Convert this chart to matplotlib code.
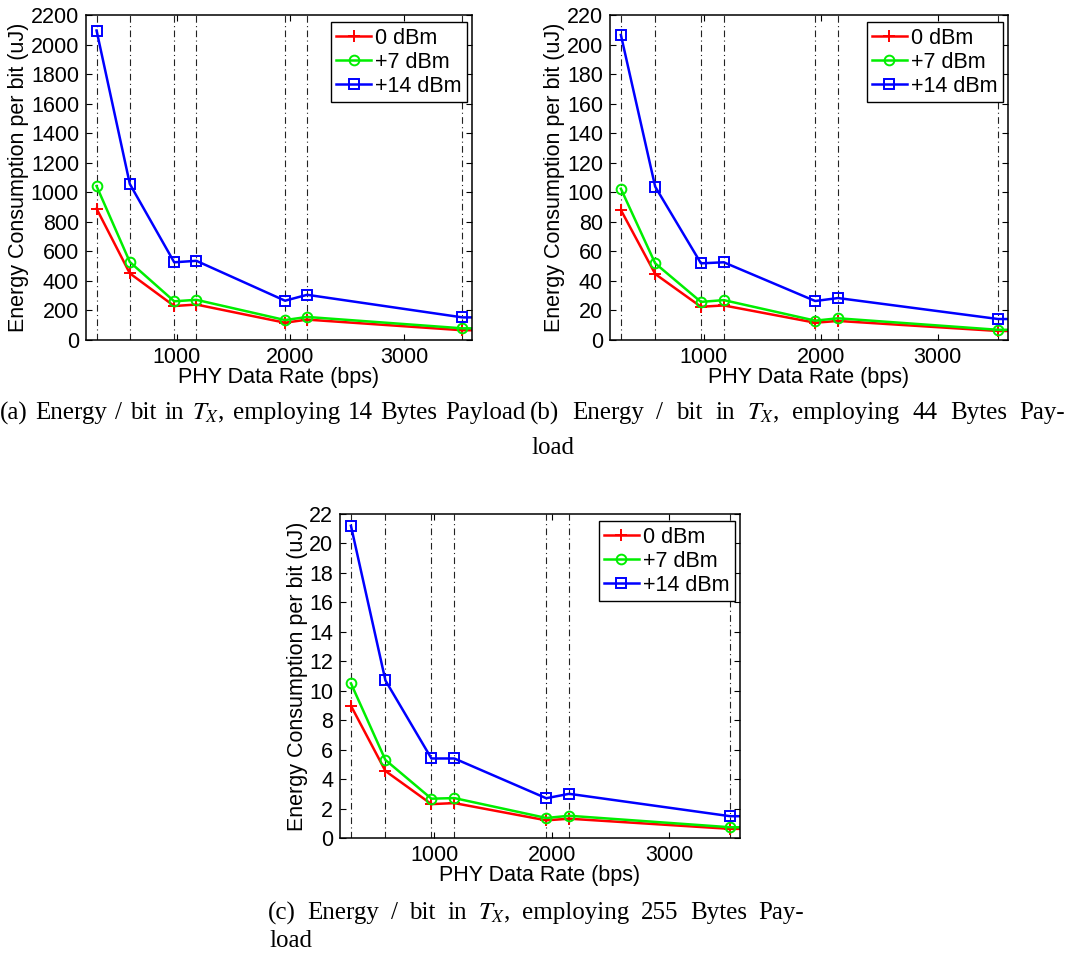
import matplotlib
matplotlib.use("Agg")
import matplotlib.pyplot as plt

plt.rcParams['font.family'] = ['Liberation Sans', 'DejaVu Sans']
plt.rcParams['mathtext.fontset'] = 'stix'

# LoRa PHY data rates (bps); the last one lies just past the x limit
rates = [293, 586, 977, 1172, 1953, 2148, 3516, 3906]

# energy per bit (uJ), 14 bytes payload
e14_0dbm = [889, 451, 230, 240, 117, 138, 66, 66]
e14_7dbm = [1042, 528, 262, 272, 135, 156, 79, 79]
e14_14dbm = [2095, 1056, 526, 536, 266, 306, 153, 153]

# 44 bytes payload
e44_0dbm = [88, 44.7, 22.5, 23.4, 11.7, 12.9, 6.1, 6.1]
e44_7dbm = [102.4, 51.9, 25.8, 27.0, 13.1, 14.7, 6.9, 6.9]
e44_14dbm = [206.5, 103.8, 51.9, 52.6, 26.4, 28.4, 14.2, 14.2]

# 255 bytes payload
e255_0dbm = [8.98, 4.55, 2.3, 2.37, 1.2, 1.31, 0.62, 0.62]
e255_7dbm = [10.5, 5.3, 2.67, 2.71, 1.36, 1.51, 0.73, 0.73]
e255_14dbm = [21.2, 10.7, 5.4, 5.4, 2.7, 3.0, 1.48, 1.48]

series_labels = ['0 dBm', '+7 dBm', '+14 dBm']
x_ticks = [1000, 2000, 3000]

cap_a = r'(a) Energy / bit in $T_X$, employing 14 Bytes Payload'
cap_b = r'(b) Energy / bit in $T_X$, employing 44 Bytes Pay-'
cap_c = r'(c) Energy / bit in $T_X$, employing 255 Bytes Pay-'

panels = [
    # (axes rect in px: left, top, right, bottom), data, ymax, ystep
    ((86, 15, 472, 340), (e14_0dbm, e14_7dbm, e14_14dbm), 2200, 200),
    ((610, 15, 1008, 340), (e44_0dbm, e44_7dbm, e44_14dbm), 220, 20),
    ((340, 514, 740, 838), (e255_0dbm, e255_7dbm, e255_14dbm), 22, 2),
]

W, H = 1071, 960
fig = plt.figure(figsize=(W / 100, H / 100), dpi=100)
FS = 15.5

styles = [
    dict(color='#ff0000', marker='+', markersize=8, markeredgewidth=1.4),
    dict(color='#00ee00', marker='o', markersize=7, markerfacecolor='none', markeredgewidth=1.4),
    dict(color='#0000ff', marker='s', markersize=6.5, markerfacecolor='none', markeredgewidth=1.4),
]

for (l, t, r, b), data, ymax, ystep in panels:
    ax = fig.add_axes([l / W, 1 - b / H, (r - l) / W, (b - t) / H])
    for xv in rates:
        ax.axvline(xv, color='#222222', lw=0.8, dashes=(6, 3, 1, 3))
    for vals, lab, st in zip(data, series_labels, styles):
        ax.plot(rates, vals, lw=1.8, label=lab, **st)
    ax.set_xlim(200, 3600)
    ax.set_ylim(0, ymax)
    ax.set_xticks(x_ticks)
    ax.set_yticks([ystep * k for k in range(int(round(ymax / ystep)) + 1)])
    ax.tick_params(direction='in', top=True, right=True, length=4, width=0.8,
                   labelsize=FS, pad=5)
    for sp in ax.spines.values():
        sp.set_linewidth(1.1)
    ax.set_xlabel('PHY Data Rate (bps)', fontsize=FS, labelpad=-1)
    ax.set_ylabel('Energy Consumption per bit (uJ)', fontsize=FS, labelpad=1)
    leg = ax.legend(loc='upper right', bbox_to_anchor=(0.987, 0.978), borderaxespad=0,
                    fontsize=FS, fancybox=False, framealpha=1, edgecolor='black',
                    handlelength=1.6, handletextpad=0.2, labelspacing=0.15,
                    borderpad=0.25)
    leg.get_frame().set_linewidth(1.0)

cap = dict(family=['Liberation Serif', 'DejaVu Serif'], fontsize=18, va='center')
renderer = fig.canvas.get_renderer()


def justify(line, x0, x1, y):
    # spread the words of one caption line between x0 and x1 (pixels)
    words = [fig.text(0, 1 - y / H, w, ha='left', **cap) for w in line.split(' ')]
    widths = [w.get_window_extent(renderer).width for w in words]
    gap = (x1 - x0 - sum(widths)) / max(len(words) - 1, 1)
    x = x0
    for w, wd in zip(words, widths):
        w.set_x(x / W)
        x += wd + gap


justify(cap_a, 0, 526, 413)
justify(cap_b, 530, 1065, 413)
fig.text(531 / W, 1 - 448 / H, 'load', ha='left', **cap)
justify(cap_c, 268, 804, 913)
fig.text(269 / W, 1 - 941 / H, 'load', ha='left', **cap)

fig.savefig('out.png', dpi=100)
